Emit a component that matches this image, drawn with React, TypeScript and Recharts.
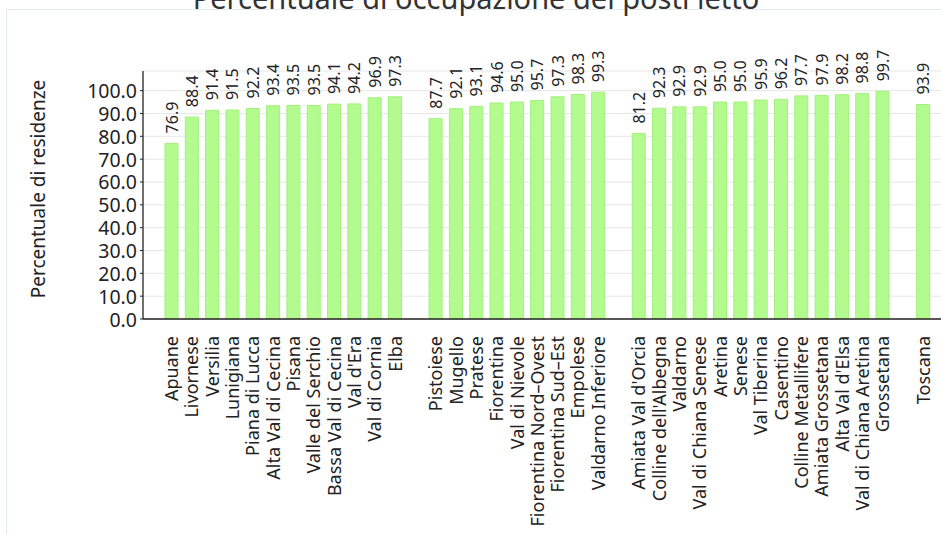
import React from 'react';
import { BarChart, Bar, XAxis, YAxis, CartesianGrid, LabelList } from 'recharts';

const group1Names = ['Apuane', 'Livornese', 'Versilia', 'Lunigiana', 'Piana di Lucca', 'Alta Val di Cecina', 'Pisana', 'Valle del Serchio', 'Bassa Val di Cecina', "Val d'Era", 'Val di Cornia', 'Elba'];
const group1Values = [76.9, 88.4, 91.4, 91.5, 92.2, 93.4, 93.5, 93.5, 94.1, 94.2, 96.9, 97.3];

const group2Names = ['Pistoiese', 'Mugello', 'Pratese', 'Fiorentina', 'Val di Nievole', 'Fiorentina Nord–Ovest', 'Fiorentina Sud–Est', 'Empolese', 'Valdarno Inferiore'];
const group2Values = [87.7, 92.1, 93.1, 94.6, 95.0, 95.7, 97.3, 98.3, 99.3];

const group3Names = ["Amiata Val d'Orcia", "Colline dell'Albegna", 'Valdarno', 'Val di Chiana Senese', 'Aretina', 'Senese', 'Val Tiberina', 'Casentino', 'Colline Metallifere', 'Amiata Grossetana', "Alta Val d'Elsa", 'Val di Chiana Aretina', 'Grossetana'];
const group3Values = [81.2, 92.3, 92.9, 92.9, 95.0, 95.0, 95.9, 96.2, 97.7, 97.9, 98.2, 98.8, 99.7];

const totalNames = ['Toscana'];
const totalValues = [93.9];

const yTicks = [0, 10, 20, 30, 40, 50, 60, 70, 80, 90, 100];

const TITLE = 'Percentuale di occupazione dei posti letto';
const Y_LABEL = 'Percentuale di residenze';

type Row = { name: string; value: number | null };

const groups: [string[], number[]][] = [
  [group1Names, group1Values],
  [group2Names, group2Values],
  [group3Names, group3Values],
  [totalNames, totalValues],
];

const data: Row[] = [];
groups.forEach(([names, values], gi) => {
  if (gi > 0) data.push({ name: '', value: null });
  names.forEach((n, i) => data.push({ name: n, value: values[i] }));
});

const FONT = '"Noto Sans", sans-serif';

const XTick = (props: any) => {
  const { x, y, payload } = props;
  if (!payload || !payload.value) return null;
  return (
    <text
      transform={`translate(${x},${y + 9}) rotate(-90)`}
      textAnchor="end"
      dominantBaseline="central"
      fontSize={18}
      fontFamily={FONT}
      fill="#222"
    >
      {payload.value}
    </text>
  );
};

const YTick = (props: any) => {
  const { x, y, payload } = props;
  return (
    <text
      x={x}
      y={y}
      textAnchor="end"
      dominantBaseline="central"
      fontSize={19.5}
      fontFamily={FONT}
      fill="#222"
    >
      {Number(payload.value).toFixed(1)}
    </text>
  );
};

const ValueLabel = (props: any) => {
  const { x, y, width, value } = props;
  if (value === null || value === undefined) return null;
  const cx = x + width / 2;
  const cy = y - 10;
  return (
    <text
      transform={`translate(${cx},${cy}) rotate(-90)`}
      textAnchor="start"
      dominantBaseline="central"
      fontSize={16}
      fontFamily={FONT}
      fill="#222"
    >
      {Number(value).toFixed(1)}
    </text>
  );
};

export default function App() {
  return (
    <div style={{ position: 'fixed', left: 0, top: 0, width: 941, height: 534, overflow: 'hidden', background: '#fff' }}>
      <div
        style={{
          position: 'absolute',
          left: 6,
          top: 9,
          width: 1000,
          height: 1000,
          border: '1px solid #e4ebee',
        }}
      />
      <div style={{ position: 'absolute', left: 0, top: 0 }}>
        <BarChart
          width={960}
          height={534}
          data={data}
          margin={{ top: 71, right: 9, bottom: 0, left: 0 }}
          barSize={13}
        >
          <CartesianGrid vertical={false} stroke="#e6e6e6" />
          <XAxis
            dataKey="name"
            type="category"
            interval={0}
            tickLine={false}
            tick={<XTick />}
            height={215}
            padding={{ left: 18, right: 18 }}
            axisLine={{ stroke: '#222', strokeWidth: 1.3 }}
          />
          <YAxis
            domain={[0, 108.6]}
            ticks={yTicks}
            interval={0}
            width={143}
            tickSize={3}
            tickMargin={3}
            tick={<YTick />}
            axisLine={{ stroke: '#222', strokeWidth: 1.3 }}
            tickLine={{ stroke: '#222' }}
            allowDataOverflow
          />
          <Bar dataKey="value" fill="#b4fb8f" stroke="#a2f07c" strokeWidth={1} isAnimationActive={false}>
            <LabelList dataKey="value" content={<ValueLabel />} />
          </Bar>
        </BarChart>
      </div>
      <svg
        width={941}
        height={534}
        style={{ position: 'absolute', left: 0, top: 0, pointerEvents: 'none' }}
      >
        <text x={476} y={9} textAnchor="middle" fontSize={29} fontFamily={FONT} fill="#333">
          {TITLE}
        </text>
        <text
          transform="translate(45,189) rotate(-90)"
          textAnchor="middle"
          fontSize={19}
          fontFamily={FONT}
          fill="#222"
        >
          {Y_LABEL}
        </text>
      </svg>
    </div>
  );
}
